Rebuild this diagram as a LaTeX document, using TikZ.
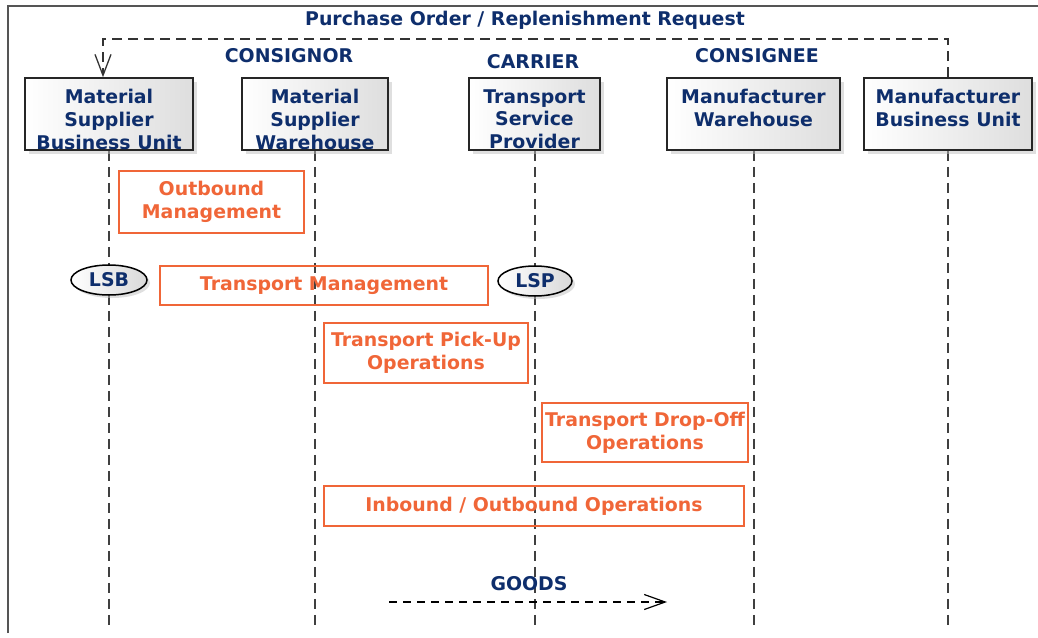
\documentclass[tikz,border=0pt]{standalone}
\usepackage{fontspec}
\setmainfont{DejaVu Sans}
\usetikzlibrary{arrows.meta, positioning, backgrounds, shadows, shapes.geometric}

\definecolor{navyText}{RGB}{14,46,108}
\definecolor{roleOrange}{RGB}{240,102,56}
\definecolor{frameGray}{RGB}{85,85,85}

\begin{document}
\begin{tikzpicture}[
    x=1pt, y=-1pt,            % one unit = one pixel of the sketch
    font=\fontsize{18.9}{22.7}\selectfont\bfseries,
    every node/.style={inner sep=0pt}
  ]
  \useasboundingbox (0,0) rectangle (1038,637);

  %--- Styles for the partners, roles and arrows ---
  \tikzset{
    actorBox/.style ={rectangle, draw=black!85, line width=1.6pt,
    left color=white, right color=black!13, minimum height=72pt,
    drop shadow={shadow xshift=4pt, shadow yshift=-4pt, fill=black!25}},
    actorText/.style={anchor=north, align=center, text=navyText},
    groupText/.style={text=navyText},
    roleBox/.style  ={rectangle, draw=roleOrange, line width=2.4pt,
    text=roleOrange, align=center},
    agentStyle/.style={ellipse, draw=black, line width=1.5pt,
    left color=white, right color=black!15, minimum height=30pt,
    text=navyText,
    drop shadow={shadow xshift=3pt, shadow yshift=-3pt, fill=black!25}},
    lifeline/.style ={draw=black!75, line width=2pt,
    dash pattern=on 10pt off 6pt},
    reqArrow/.style ={draw=black!80, line width=1.5pt,
    dash pattern=on 10pt off 6pt,
    -{Straight Barb[length=21pt, width=16pt, line width=1.3pt]}},
    goodsArrow/.style={draw=black, line width=1.3pt,
    dash pattern=on 8pt off 6pt,
    -{Straight Barb[length=21pt, width=15pt, line width=1.2pt]}},
  }

  % frame
  \draw[frameGray, line width=1.8pt] (8,633) -- (8,6) -- (1038,6);

  %------------------------------------------------------------------------------
  % 1) Partners (top row)
  %------------------------------------------------------------------------------
  \node[actorBox, minimum width=168pt] (msbu) at (109,114) {};
  \node[actorBox, minimum width=146pt] (msw)  at (315,114) {};
  \node[actorBox, minimum width=131pt] (tsp)  at (534.5,114) {};
  \node[actorBox, minimum width=173pt] (mw)   at (753.5,114) {};
  \node[actorBox, minimum width=168pt] (mbu)  at (948,114) {};

  \node[actorText] (msbuText) [below=12pt of msbu.north]
  {Material\\Supplier\\Business Unit};
  \node[actorText] (mswText) [below=12pt of msw.north]
  {Material\\Supplier\\Warehouse};
  \node[actorText] (tspText) [below=12pt of tsp.north]
  {Transport\\Service\\Provider};
  \node[actorText] (mwText) [below=12pt of mw.north]
  {Manufacturer\\Warehouse};
  \node[actorText] (mbuText) [below=12pt of mbu.north]
  {Manufacturer\\Business Unit};

  \node[groupText] (consignor) at (289,56) {CONSIGNOR};
  \node[groupText] (carrier)   at (533,62) {CARRIER};
  \node[groupText] (consignee) at (757,56) {CONSIGNEE};
  \node[groupText] (request)   at (525,20)
  {Purchase Order / Replenishment Request};

  %------------------------------------------------------------------------------
  % 2) Lifelines
  %------------------------------------------------------------------------------
  \coordinate (lifeEnd) at (0,628);
  \begin{scope}[on background layer]
    \draw[lifeline] (msbu.south) -- (msbu.south |- lifeEnd);
    \draw[lifeline] (msw.south)  -- (msw.south |- lifeEnd);
    \draw[lifeline] (tsp.south)  -- (tsp.south |- lifeEnd);
    \draw[lifeline] (mw.south)   -- (mw.south |- lifeEnd);
    \draw[lifeline] (mbu.south)  -- (mbu.south |- lifeEnd);
  \end{scope}

  %------------------------------------------------------------------------------
  % 3) Roles and agents
  %------------------------------------------------------------------------------
  \node[roleBox, minimum width=185pt, minimum height=62pt] (outbound)
  at (211.5,202) {Outbound\\Management};
  \node[agentStyle, minimum width=76pt] (lsb) at (109,280) {LSB};
  \node[roleBox, minimum width=328pt, minimum height=39pt] (transportMgmt)
  at (324,285.5) {Transport Management};
  \node[agentStyle, minimum width=74pt] (lsp) at (535,281) {LSP};
  \node[roleBox, minimum width=204pt, minimum height=60pt] (pickUp)
  at (426,353) {Transport Pick-Up\\Operations};
  \node[roleBox, minimum width=206pt, minimum height=59pt] (dropOff)
  at (645,432.5) {Transport Drop-Off\\Operations};
  \node[roleBox, minimum width=420pt, minimum height=40pt] (inOut)
  at (534,506) {Inbound / Outbound Operations};

  %------------------------------------------------------------------------------
  % 4) Request and goods flow
  %------------------------------------------------------------------------------
  \draw[reqArrow] (mbu.north) -- ++(0,-38) -| ([xshift=-6pt]msbu.north);

  \node[groupText] (goods) at (529,584) {GOODS};
  \coordinate (goodsStart) at (389,602);
  \coordinate (goodsEnd)   at (667,602);
  \draw[goodsArrow] (goodsStart) -- (goodsEnd);

\end{tikzpicture}
\end{document}
